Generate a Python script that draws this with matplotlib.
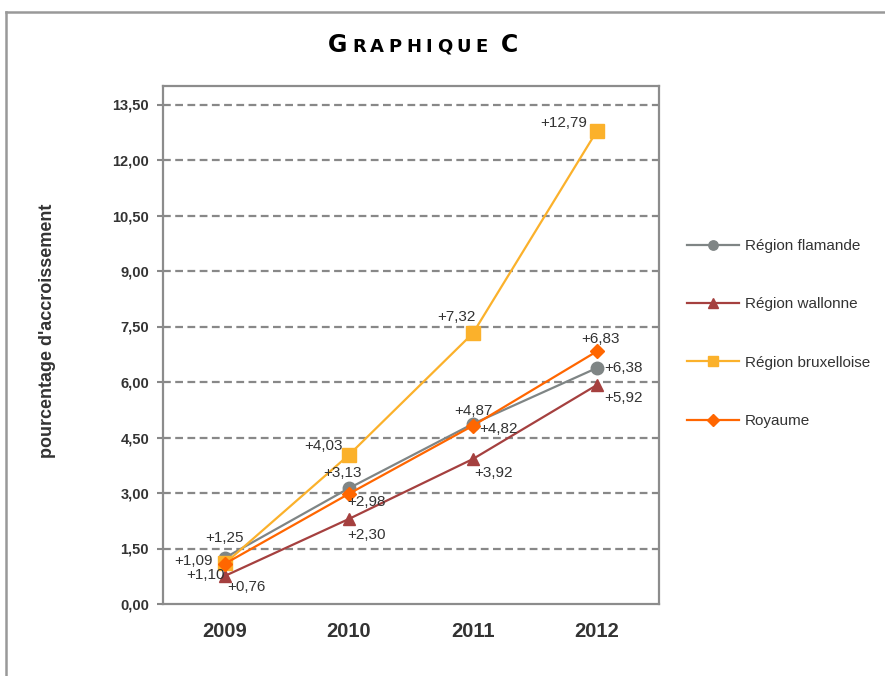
import matplotlib
matplotlib.use("Agg")
import matplotlib.pyplot as plt
from matplotlib.lines import Line2D

# ---------------- data ----------------
years = ["2009", "2010", "2011", "2012"]
flamande = [1.25, 3.13, 4.87, 6.38]
wallonne = [0.76, 2.30, 3.92, 5.92]
bruxelloise = [1.10, 4.03, 7.32, 12.79]
royaume = [1.09, 2.98, 4.82, 6.83]
series_names = ["Région flamande", "Région wallonne", "Région bruxelloise", "Royaume"]
y_ticks = [0, 1.5, 3, 4.5, 6, 7.5, 9, 10.5, 12, 13.5]
title = "Graphique C"
ylabel = "pourcentage d'accroissement"

# ---------------- style ----------------
colors = ["#7F8585", "#A5403F", "#FBB12B", "#FF6600"]
markers = ["o", "^", "s", "D"]
msizes = [9, 9, 10, 7.5]
# label offsets (pixels) and alignment per series/point
label_pos = [
    [(0, 20, "center"), (-6, 15, "center"), (0, 13, "center"), (7, 0, "left")],
    [(2, -11, "left"), (-2, -16, "left"), (1, -14, "left"), (7, -13, "left")],
    [(0, -12, "right"), (-6, 9, "right"), (-17, 16, "center"), (-10, 8, "right")],
    [(-12, 3, "right"), (-2, -8, "left"), (6, -3, "left"), (3, 12, "center")],
]

plt.rcParams["font.family"] = ["Liberation Sans", "DejaVu Sans"]
W, H = 885, 676
fig = plt.figure(figsize=(W / 100, H / 100), dpi=100)
ax = fig.add_axes([163 / W, 1 - 604 / H, (659 - 163) / W, (604 - 86) / H])

x = list(range(len(years)))
all_series = [flamande, wallonne, bruxelloise, royaume]
for i, vals in enumerate(all_series):
    ax.plot(x, vals, color=colors[i], lw=1.6, marker=markers[i], ms=msizes[i],
            mfc=colors[i], mec=colors[i], label=series_names[i], zorder=3 + i)
    for j, v in enumerate(vals):
        dx, dy, ha = label_pos[i][j]
        ax.annotate(("+%.2f" % v).replace(".", ","), (x[j], v), xytext=(dx, dy),
                    textcoords="offset pixels", ha=ha, va="center",
                    fontsize=11, color="#333333", zorder=10)

ax.set_xlim(-0.5, len(years) - 0.5)
ax.set_ylim(0, 14)
ax.set_yticks(y_ticks)
ax.set_yticklabels([("%.2f" % t).replace(".", ",") for t in y_ticks],
                   fontsize=10.5, fontweight="bold", color="#333333")
ax.set_xticks(x)
ax.set_xticklabels(years, fontsize=14.5, fontweight="bold", color="#333333")
ax.tick_params(axis="x", length=0, pad=13)
ax.tick_params(axis="y", length=4, width=1.5, color="#888888", pad=6)
for t in y_ticks[1:]:
    ax.axhline(t, color="#888888", lw=1.6, ls=(0, (3.5, 2)), zorder=1)
for s in ax.spines.values():
    s.set_color("#8c8c8c")
    s.set_linewidth(1.6)

leg = fig.legend(loc="center left", bbox_to_anchor=(687 / W, 1 - 333.5 / H),
                 frameon=False, fontsize=11, labelspacing=2.9, handlelength=3.4,
                 handletextpad=0.4, borderpad=0, borderaxespad=0, markerscale=0.75)
for t in leg.get_texts():
    t.set_color("#333333")

fig.text(48 / W, 1 - 331 / H, ylabel, rotation=90, ha="center", va="center",
         fontsize=13, fontweight="bold", color="#333333")

# figure border (top and left)
fig.add_artist(Line2D([6 / W, 1], [1 - 12 / H, 1 - 12 / H], transform=fig.transFigure,
                      color="#999999", lw=1.8))
fig.add_artist(Line2D([6 / W, 6 / W], [0, 1 - 12 / H], transform=fig.transFigure,
                      color="#999999", lw=1.8))

# title in small caps, placed letter by letter
renderer = fig.canvas.get_renderer()
xpos = 328.0
base = 1 - 52 / H
spacing = 4.5
for k, ch in enumerate(title.upper()):
    if ch == " ":
        xpos += 9
        continue
    big = title[k].isupper()
    t = fig.text(xpos / W, base, ch, ha="left", va="baseline",
                 fontsize=17 if big else 13, fontweight="bold",
                 family="DejaVu Sans", color="black")
    bb = t.get_window_extent(renderer)
    xpos += bb.width + spacing

fig.savefig("out.png", dpi=100)
